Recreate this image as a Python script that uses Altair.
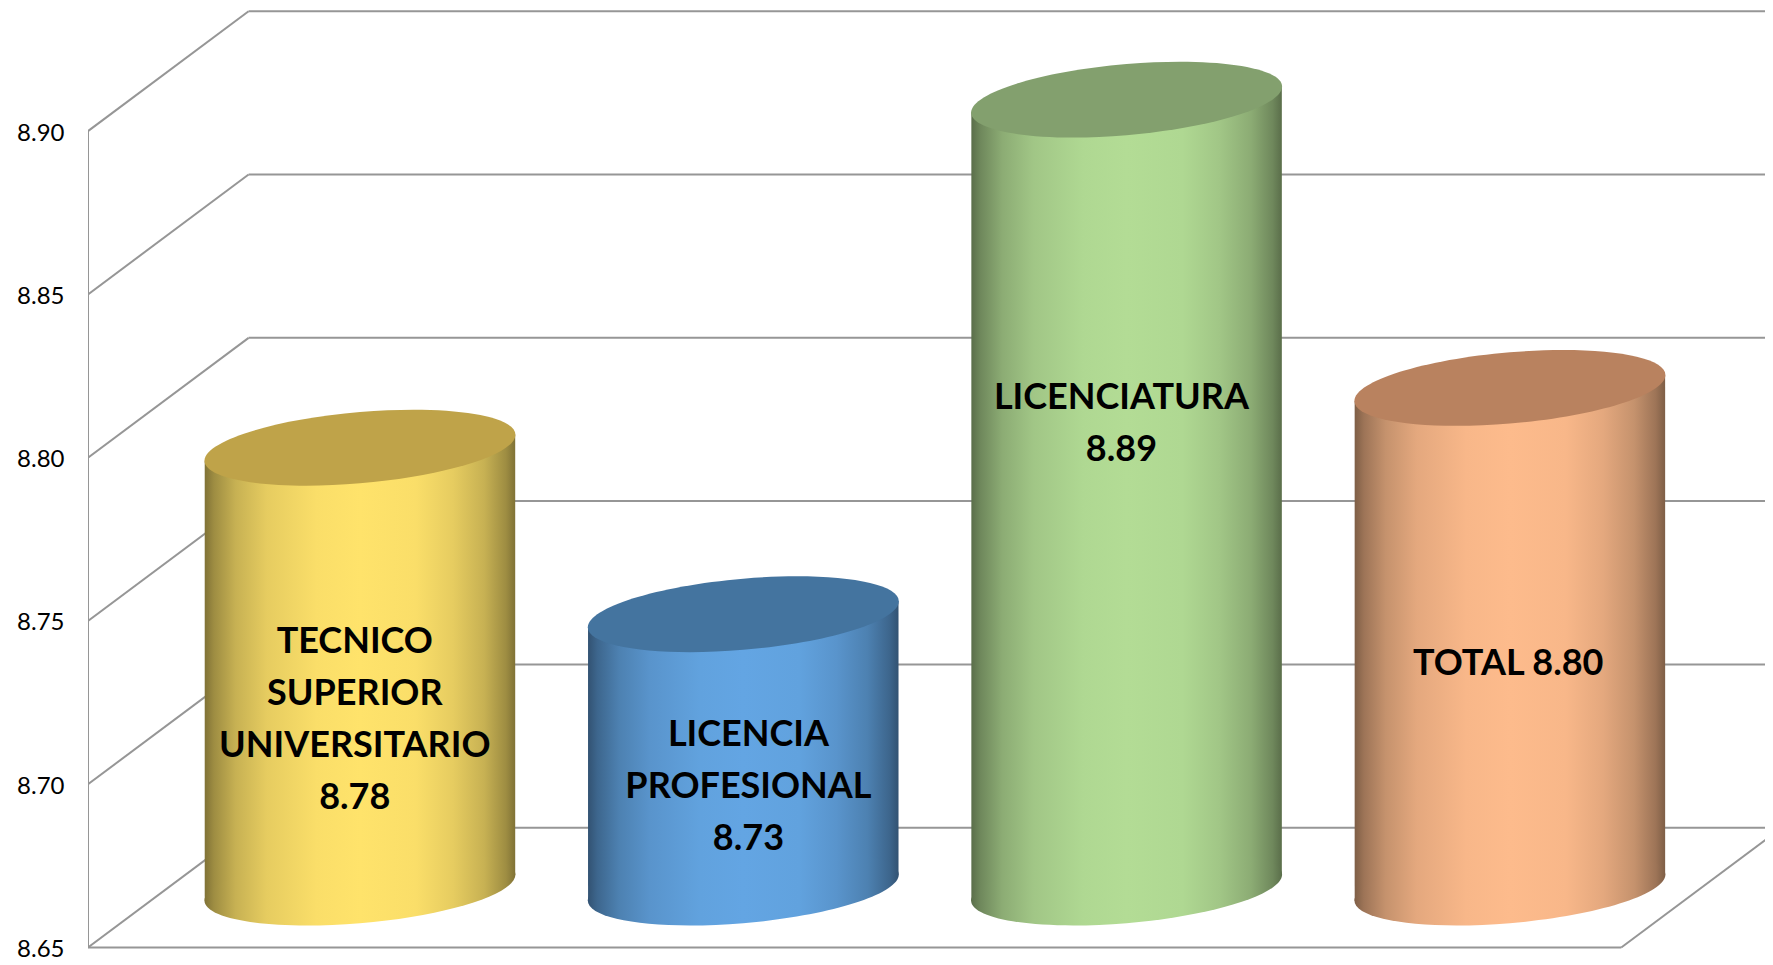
import altair as alt
import pandas as pd

# --- chart values ---
categories = ["TECNICO\nSUPERIOR\nUNIVERSITARIO\n8.78", "LICENCIA\nPROFESIONAL\n8.73",
              "LICENCIATURA\n8.89", "TOTAL 8.80"]
values = [8.7847, 8.7337, 8.8913, 8.803]
slot_centers = [0.5, 1.5, 2.5, 3.5]
label_x = [0.696, 1.723, 2.696, 3.705]
label_y = [8.7435, 8.7151, 8.8183, 8.7369]
ticks = [8.65, 8.70, 8.75, 8.80, 8.85, 8.90]
base_value = 8.65
center_colors = [(255, 227, 107), (99, 165, 227), (179, 220, 149), (253, 187, 140)]
top_colors = ["#BFA349", "#44749F", "#83A06E", "#B9825F"]

# --- pseudo-3D geometry, in scale units ---
depth_x = 0.419
depth_y = 0.0367
half_w = 0.405
tilt = 0.00398
GRID = "#969696"
W, H = 1677, 953
XS = alt.Scale(domain=[0, 4.375], nice=False, zero=False)
YS = alt.Scale(domain=[8.64587, 8.9377], nice=False, zero=False)
FONT = "Lato"

# unit ellipse as an affine-transformed circle (bezier), sheared like the original
k = 0.5523
c, b = 0.0836, 0.229
def P(ct, st):
    return f"{ct:.4f},{(-c * ct - b * st):.4f}"
ELLIPSE = ("M" + P(1, 0) + "C" + P(1, k) + " " + P(k, 1) + " " + P(0, 1)
           + "C" + P(-k, 1) + " " + P(-1, k) + " " + P(-1, 0)
           + "C" + P(-1, -k) + " " + P(-k, -1) + " " + P(0, -1)
           + "C" + P(k, -1) + " " + P(1, -k) + " " + P(1, 0) + "Z")
ELL_SIZE = (2 * 155.5) ** 2

SHADE = [(0, .50), (.03, .62), (.10, .78), (.20, .90), (.36, .98), (.5, 1), (.68, .98),
         (.8, .90), (.9, .78), (.97, .62), (1, .50)]
def gradient(rgb):
    stops = []
    for off, s in SHADE:
        col = "#%02x%02x%02x" % tuple(int(round(v * s)) for v in rgb)
        stops.append(alt.GradientStop(offset=off, color=col))
    return alt.Gradient(gradient="linear", stops=stops, x1=0, x2=1, y1=0, y2=0)

# --- wall and floor lines ---
rows = [dict(x=0, x2=0, y=ticks[0], y2=ticks[-1]),
        dict(x=0, x2=4, y=ticks[0], y2=ticks[0]),
        dict(x=4, x2=4 + depth_x, y=ticks[0], y2=ticks[0] + depth_y)]
for t in ticks:
    rows.append(dict(x=0, x2=depth_x, y=t, y2=t + depth_y))
    rows.append(dict(x=depth_x, x2=4 + depth_x, y=t + depth_y, y2=t + depth_y))
lines = alt.Chart(pd.DataFrame(rows)).mark_rule(color=GRID, strokeWidth=2, clip=True).encode(
    x=alt.X("x:Q", scale=XS, axis=None),
    x2="x2:Q",
    y=alt.Y("y:Q", scale=YS, title=None,
            axis=alt.Axis(values=ticks, format=".2f", grid=False, domain=False, ticks=False,
                          labelPadding=24, labelFont=FONT, labelFontSize=24, labelOffset=2,
                          labelColor="#000000")),
    y2="y2:Q",
)

layers = [lines]
for i in range(4):
    cx = slot_centers[i] + depth_x / 2
    bottom = base_value + depth_y / 2
    top = values[i] + depth_y / 2
    grad = gradient(center_colors[i])
    body = pd.DataFrame({"x": [cx - half_w, cx + half_w],
                         "y": [top - tilt, top + tilt],
                         "y2": [bottom - tilt, bottom + tilt]})
    layers.append(alt.Chart(body).mark_area(fill=grad, orient="vertical").encode(
        x=alt.X("x:Q", scale=XS, axis=None),
        y=alt.Y("y:Q", scale=YS),
        y2="y2:Q"))
    foot = pd.DataFrame({"x": [cx], "y": [bottom]})
    layers.append(alt.Chart(foot).mark_point(shape=ELLIPSE, size=ELL_SIZE, filled=True, fill=grad,
                                             strokeWidth=0, opacity=1).encode(
        x=alt.X("x:Q", scale=XS, axis=None), y=alt.Y("y:Q", scale=YS)))
    cap = pd.DataFrame({"x": [cx], "y": [top]})
    layers.append(alt.Chart(cap).mark_point(shape=ELLIPSE, size=ELL_SIZE, filled=True, fill=top_colors[i],
                                            strokeWidth=0, opacity=1).encode(
        x=alt.X("x:Q", scale=XS, axis=None), y=alt.Y("y:Q", scale=YS)))

labels = pd.DataFrame({"x": label_x, "y": label_y, "t": categories})
layers.append(alt.Chart(labels).mark_text(font=FONT, fontWeight="bold", fontSize=36, lineBreak="\n",
                                          lineHeight=52, color="#000000", align="center",
                                          baseline="middle").encode(
    x=alt.X("x:Q", scale=XS, axis=None), y=alt.Y("y:Q", scale=YS), text="t:N"))

chart = alt.layer(*layers).properties(
    width=W, height=H,
    padding={"left": 80, "top": 0, "right": 0, "bottom": 0},
    autosize=alt.AutoSizeParams(type="none"),
    background="#ffffff",
).configure_view(stroke=None)

chart.save("out.html", embed_options={"renderer": "svg", "actions": False})
